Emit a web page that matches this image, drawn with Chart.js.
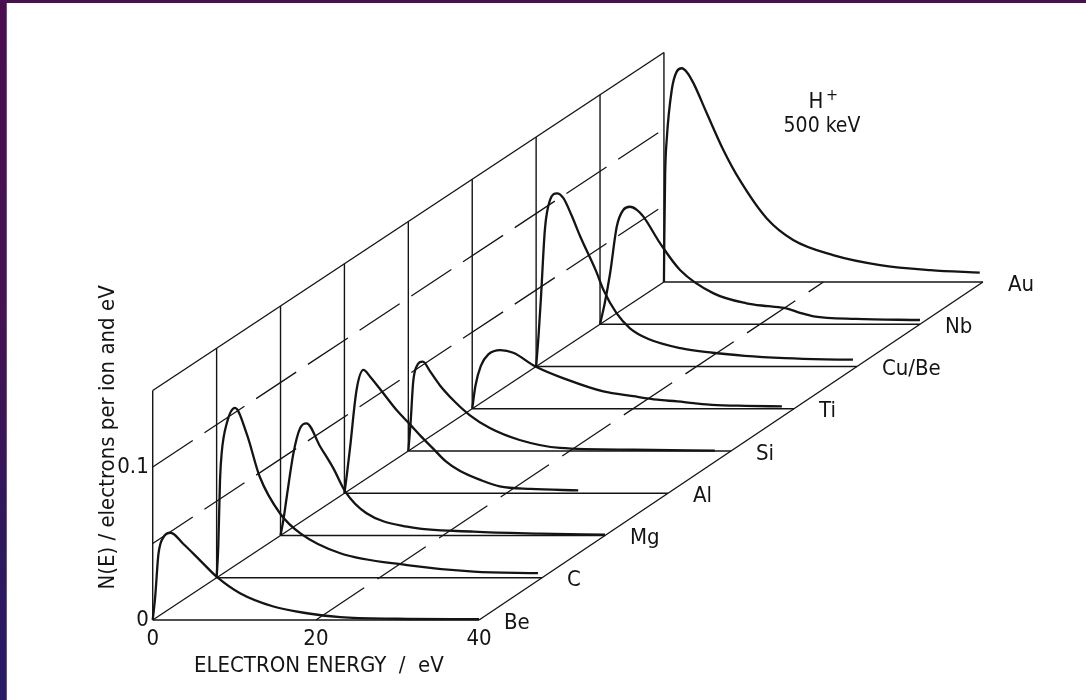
<!DOCTYPE html>
<html>
<head>
<meta charset="utf-8">
<script src="https://cdn.jsdelivr.net/npm/chart.js@4.4.1/dist/chart.umd.min.js"></script>
<style>
  html, body { margin: 0; padding: 0; background: #fff; }
  #wrap { position: relative; width: 1086px; height: 700px; overflow: hidden; background: #fff; }
  #edge-left { position: absolute; left: 0; top: 0; width: 6px; height: 700px;
    background: linear-gradient(to bottom, #4a0d4f 0%, #461252 45%, #2f175c 75%, #291b66 100%);
    border-right: 1px solid #6b4f86; }
  #edge-top { position: absolute; left: 0; top: 0; width: 1086px; height: 3px; background: #4a1152; }
  #chart { position: absolute; left: 0; top: 0; }
</style>
</head>
<body>
<div id="wrap">
  <div id="edge-left"></div>
  <div id="edge-top"></div>
  <canvas id="chart" width="1086" height="700"></canvas>
</div>
<script>
// rows of the waterfall, front (Be) to back (Au)
const ELEMENTS = ["Be", "C", "Mg", "Al", "Si", "Ti", "Cu/Be", "Nb", "Au"];

// N(E) spectra: [electron energy eV, electrons per ion and eV]
const BE = [[0, 0], [0.3, 0.015], [0.7, 0.043], [1.3, 0.054], [2.2, 0.057], [3.7, 0.05], [5.8, 0.039],
  [7.9, 0.028], [10.7, 0.0175], [14.8, 0.0088], [18.9, 0.0044], [23, 0.0018], [30, 0.0008], [40, 0.0005]];
const C = [[0, 0], [0.2, 0.02], [0.42, 0.064], [0.63, 0.082], [1.25, 0.101], [2.25, 0.111], [3.7, 0.094],
  [5.3, 0.066], [7.8, 0.042], [10.3, 0.029], [15.2, 0.016], [23.4, 0.0083], [31.6, 0.004], [39.5, 0.003]];
const MG = [[0, 0], [0.35, 0.01], [0.76, 0.025], [1.6, 0.054], [2.4, 0.07], [3.2, 0.0733], [4.9, 0.058],
  [6.5, 0.044], [8, 0.0285], [10.6, 0.0145], [15.6, 0.0058], [23.8, 0.0025], [32, 0.0012], [40, 0.0005]];
const AL = [[0, 0], [0.3, 0.012], [0.7, 0.03], [1.5, 0.0675], [2.35, 0.0806], [3.2, 0.076], [5, 0.064],
  [6.5, 0.054], [8.1, 0.045], [9.5, 0.037], [11, 0.029], [12.5, 0.021], [14.3, 0.0145], [16.8, 0.0087],
  [19.2, 0.0045], [23, 0.0028], [28.9, 0.0019]];
const SI = [[0, 0], [0.3, 0.02], [0.6, 0.045], [1, 0.055], [1.8, 0.0584], [2.7, 0.052], [3.9, 0.043],
  [5.8, 0.032], [7.6, 0.0235], [10.1, 0.015], [13.8, 0.0072], [18.8, 0.002], [28, 0.0008], [38, 0.0003]];
const TI = [[0, 0], [0.4, 0.015], [1.07, 0.028], [2, 0.0355], [3.5, 0.0383], [5.1, 0.0366], [7.8, 0.0278],
  [11.8, 0.019], [16.3, 0.0113], [20, 0.0082], [23, 0.0059], [25.5, 0.0048], [27.5, 0.0037], [29.8, 0.0026],
  [34, 0.0019], [38.5, 0.0015]];
const CUBE = [[0, 0], [0.3, 0.02], [0.6, 0.045], [1.1, 0.09], [1.75, 0.109], [2.6, 0.1132], [3.4, 0.11],
  [4.4, 0.099], [5.5, 0.085], [7.5, 0.062], [8.4, 0.05], [10, 0.035], [11.7, 0.025], [14, 0.018],
  [18, 0.012], [22, 0.009], [26, 0.007], [31, 0.0055], [36, 0.0047], [39.5, 0.0045]];
const NB = [[0, 0], [0.6, 0.014], [1.25, 0.033], [2.1, 0.064], [2.9, 0.0747], [3.75, 0.0768], [4.6, 0.0748],
  [5.4, 0.0705], [7.5, 0.053], [10, 0.0355], [14.2, 0.0202], [18.3, 0.0137], [21, 0.0118], [23.3, 0.0104],
  [25, 0.0075], [26.7, 0.0052], [32, 0.0035], [40, 0.0028]];
const AU = [[0, 0], [0.05, 0.03], [0.15, 0.07], [0.35, 0.093], [0.98, 0.1255], [1.6, 0.1375], [2.23, 0.1397],
  [2.9, 0.137], [3.7, 0.13], [5.4, 0.11], [7.45, 0.0863], [9.5, 0.0667], [12.9, 0.0415], [16.2, 0.0275],
  [21.2, 0.0176], [27.1, 0.0111], [33.4, 0.0078], [39.6, 0.0061]];
const SPECTRA = [BE, C, MG, AL, SI, TI, CUBE, NB, AU];

const ENERGY_MAX = 40;
const WALL_TOP = 0.15;          // height of the back wall
const WALL_GRID = [0.05, 0.1];  // dashed lines on the back wall
const FLOOR_GRID = [20];        // dashed lines across the floor
const X_TICKS = [0, 20, 40];
const Y_TICKS = [0, 0.1];

// oblique projection: every row moves back/up by a fixed step, in axis units
const DEPTH_X = 7.833;
const DEPTH_Y = 0.02761;
const SHRINK = 0.0028;

const INK = "#141414";
const FONT = "'DejaVu Sans Condensed', 'Liberation Sans Narrow', 'DejaVu Sans', sans-serif";

const proj = (e, n, k) => ({ x: e * (1 - SHRINK * k) + k * DEPTH_X, y: n + k * DEPTH_Y });

const line = (points, width, dash) => ({
  data: points,
  showLine: true,
  borderColor: INK,
  borderWidth: width,
  borderDash: dash || [],
  pointRadius: 0,
  fill: false,
  tension: 0
});

const datasets = [];
const lastRow = ELEMENTS.length - 1;

// floor: baselines and the lines running back from E = 0, 20, 40
ELEMENTS.forEach((_, k) => datasets.push(line([proj(0, 0, k), proj(ENERGY_MAX, 0, k)], 1.5)));
datasets.push(line([proj(0, 0, 0), proj(0, 0, lastRow)], 1.3));
datasets.push(line([proj(ENERGY_MAX, 0, 0), proj(ENERGY_MAX, 0, lastRow)], 1.4));
FLOOR_GRID.forEach((e) => datasets.push(line([proj(e, 0, 0), proj(e, 0, lastRow)], 1.3, [58, 16])));

// back wall: verticals at E = 0, top edge and dashed levels
ELEMENTS.forEach((_, k) => datasets.push(line([proj(0, 0, k), proj(0, WALL_TOP, k)], 1.4)));
datasets.push(line([proj(0, WALL_TOP, 0), proj(0, WALL_TOP, lastRow)], 1.4));
WALL_GRID.forEach((n) => datasets.push(line([proj(0, n, 0), proj(0, n, lastRow)], 1.3, [48, 14])));

// spectra
SPECTRA.forEach((spec, k) => {
  const ds = line(spec.map(([e, n]) => proj(e, n, k)), 2.3);
  ds.cubicInterpolationMode = "monotone";
  ds.label = ELEMENTS[k];
  datasets.push(ds);
});

const textPlugin = {
  id: "waterfallText",
  afterDatasetsDraw(chart) {
    const { ctx, scales } = chart;
    const at = (e, n, k) => {
      const p = proj(e, n, k);
      return [scales.x.getPixelForValue(p.x), scales.y.getPixelForValue(p.y)];
    };
    ctx.save();
    ctx.fillStyle = INK;
    ctx.font = `22px ${FONT}`;

    ctx.textAlign = "center";
    ctx.textBaseline = "top";
    X_TICKS.forEach((v) => {
      const [px, py] = at(v, 0, 0);
      ctx.fillText(String(v), px, py + 8);
    });

    ctx.textAlign = "right";
    ctx.textBaseline = "middle";
    Y_TICKS.forEach((v) => {
      const [px, py] = at(0, v, 0);
      ctx.fillText(String(v), px - 4, py);
    });

    ctx.textAlign = "left";
    ELEMENTS.forEach((name, k) => {
      const [px, py] = at(ENERGY_MAX, 0, k);
      ctx.fillText(name, px + 25, py + 3);
    });

    // axis titles
    const [midX, baseY] = at(ENERGY_MAX / 2, 0, 0);
    ctx.textAlign = "center";
    ctx.textBaseline = "middle";
    ctx.fillText("ELECTRON ENERGY  /  eV", midX + 3, baseY + 46);

    const [axX, axY] = at(0, 0.118, 0);
    ctx.save();
    ctx.translate(axX - 44, axY - 2);
    ctx.rotate(-Math.PI / 2);
    ctx.font = `22px ${FONT}`;
    ctx.fillText("N(E) / electrons per ion and eV", 0, 0);
    ctx.restore();

    // beam annotation
    const area = chart.chartArea;
    const cx = area.left + 822;
    ctx.font = `22px ${FONT}`;
    ctx.fillText("H", cx - 6, area.top + 102);
    ctx.font = `16px ${FONT}`;
    ctx.fillText("+", cx + 10, area.top + 96);
    ctx.font = `21px ${FONT}`;
    ctx.fillText("500 keV", cx, area.top + 127);
    ctx.restore();
  }
};

new Chart(document.getElementById("chart"), {
  type: "scatter",
  data: { datasets },
  options: {
    responsive: false,
    animation: false,
    layout: { padding: 0 },
    plugins: { legend: { display: false }, tooltip: { enabled: false } },
    scales: {
      x: { type: "linear", display: false, min: -18.72, max: 114.4 },
      y: { type: "linear", display: false, min: -0.0523, max: 0.4052 }
    }
  },
  plugins: [textPlugin]
});
</script>
</body>
</html>
